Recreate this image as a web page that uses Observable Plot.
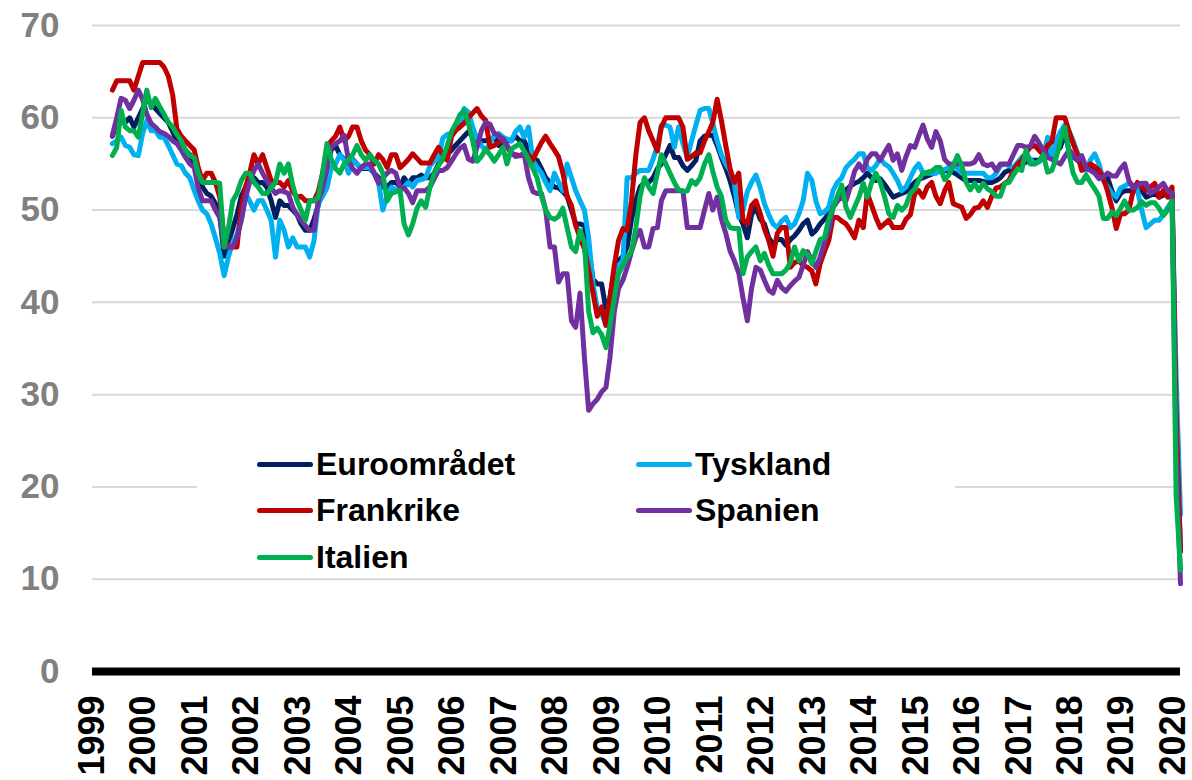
<!DOCTYPE html>
<html><head><meta charset="utf-8">
<script src="https://cdn.jsdelivr.net/npm/d3@7"></script>
<script src="https://cdn.jsdelivr.net/npm/@observablehq/plot@0.6"></script>
<style>
body{margin:0;background:#fff;}
#wrap{position:relative;width:1192px;height:780px;overflow:hidden;font-family:"Liberation Sans",Arial,sans-serif;}
#legendbox{position:absolute;left:197px;top:425px;width:758px;height:148px;background:#fff;}
.item{position:absolute;display:flex;align-items:center;height:40px;font-size:32px;font-weight:bold;color:#000;line-height:40px;white-space:nowrap;}
.swatch{width:56px;height:5px;border-radius:3px;margin-right:3px;}
</style></head>
<body><div id="wrap"></div>
<script>
// First observation: July 1999, monthly through April 2020
const startYear = 1999, startMonth = 7;
const seriesNames = ["Euroområdet", "Tyskland", "Frankrike", "Spanien", "Italien"];

const euroomradet = [
  58, 59.5, 60, 59.5, 60, 59,
  60, 61, 62, 61.5, 61, 60.5, 60, 59.5, 58.5, 57.5, 57, 56.5,
  56, 55, 53.5, 52.5, 51.8, 51.5, 50.7, 49.5, 45, 46.5, 48, 49.5,
  51.5, 52.5, 53.5, 53.5, 53, 53, 52.5, 51, 49.2, 51, 50.5, 50.5,
  50, 49.5, 48.5, 47.8, 47.8, 49, 50.5, 52.5, 55, 56.5, 57, 56,
  55.5, 55, 55.5, 55, 54.5, 54.5, 54.5, 54, 53.5, 52.5, 52.5, 53,
  53, 52.5, 53.5, 52.8, 53.5, 53.5, 53.8, 53.5, 53.5, 54, 55, 55.5,
  56, 56.5, 57, 57.5, 58, 58.5, 58, 57.5, 57.5, 57.5, 57.5, 58,
  57, 57.5, 57.5, 57.5, 58, 57.5, 57.5, 56.5, 55.4, 55.4, 54.5, 53.5,
  53, 52.5, 52.4, 52, 51.5, 50, 48.5, 48.5, 48.3, 45.8, 42.5, 42,
  42, 39.2, 40.5, 43.5, 44.5, 45, 46, 49, 51, 52.5, 53, 53,
  53.5, 54.5, 55, 56, 57, 55.7, 55.7, 54.8, 54.3, 54.8, 55.4, 57.5,
  58, 58.1, 58.1, 57, 55.7, 54.5, 53.2, 51.5, 49.5, 48.5, 47, 49.5,
  50.3, 49, 48.5, 47, 46.3, 46.8, 46.8, 46.2, 46.8, 47.2, 47.8, 48.5,
  48.9, 47.4, 47.8, 48.5, 49, 49.6, 50.3, 51, 51.8, 52.2, 52.6, 52.9,
  53.1, 53.5, 54, 53.5, 53.2, 53.4, 52.8, 52.1, 51.4, 51.6, 51.8, 52,
  52.5, 53, 53.3, 53.5, 53.7, 53.9, 54.1, 54.3, 54.3, 54.2, 54.1, 53.8,
  53.5, 53.2, 53.2, 53.2, 53.2, 53.1, 53, 53, 53.2, 53.5, 54.1, 54.3,
  54.6, 54.8, 55, 55.2, 55.4, 55.4, 55.4, 55.7, 56.2, 56.3, 56.4, 56.8,
  58.4, 56.4, 55.8, 55.4, 55, 54.7, 54.6, 54.4, 54.3, 53.7, 53.5, 52.1,
  51, 51.8, 52.1, 52.1, 52.1, 52.1, 52.1, 51.4, 51.6, 51.8, 51.4, 51.6,
  51.8, 51.8, 27, 13
];

const tyskland = [
  57.2, 57.5, 57.9, 57, 56.8, 56,
  55.9, 58.3, 59.7, 58.6, 58.6, 57.9, 57.9, 57, 56, 55, 54.8, 54,
  53.5, 52.1, 51, 50, 49.6, 48.5, 47, 45.3, 42.9, 44.9, 46.5, 47.4,
  48.9, 51.8, 51, 50, 51, 51, 50, 48.9, 44.9, 48.9, 47.8, 46,
  47, 46, 46, 46, 44.9, 46.7, 50.7, 51.5, 52.4, 54.6, 55, 56,
  55.4, 54, 55.4, 55, 54.6, 54.6, 54.6, 54, 53, 50, 51.5, 52.5,
  52.2, 52.1, 52.5, 53, 52.5, 53.2, 53.3, 53.5, 54.8, 55.3, 55.7, 57.8,
  58.2, 58.3, 58.7, 59, 61, 60.6, 59, 57.7, 57, 56.4, 57.3, 58,
  58.3, 57.9, 57.7, 57.5, 58.5, 59, 57.9, 59, 55.4, 54.6, 54, 53,
  52.1, 54, 53, 52.1, 55, 53.5, 52.1, 51, 50, 47, 42, 39.4,
  38.8, 37.5, 40.5, 42.5, 44, 44.5, 53.5, 53.5, 54, 54.3, 54.3, 54.3,
  55.5, 57, 59.2, 59.2, 59, 56.8, 59, 57.2, 55.7, 57.5, 59.2, 60.8,
  61, 61, 59.4, 57.5, 56, 55, 54.3, 52.9, 49.2, 50, 52, 53,
  53.8, 52.4, 50.7, 49.5, 48.5, 48.1, 48.8, 49.2, 48.1, 48.5, 49.6, 51,
  54, 53.2, 51, 49.6, 49.8, 50.3, 52.1, 53, 53.5, 54.6, 55.1, 55.5,
  56.1, 56.1, 54.6, 54.3, 54.8, 55.6, 55, 54.7, 54, 53.2, 52.1, 52.5,
  53.5, 54.5, 55, 54, 54, 54, 54, 54.2, 54.4, 54.6, 55, 54.5,
  54, 54, 54, 54, 54, 54, 53.5, 53.5, 54, 54.8, 55, 54.8,
  54.6, 55.2, 55.7, 56.1, 55.5, 55, 55.2, 55.6, 57.9, 55.7, 57.5, 58.5,
  59.2, 58.5, 57.5, 56.2, 55, 54.3, 55.4, 56.1, 55, 53.2, 52.5, 51.8,
  51.4, 52.4, 52.6, 52.9, 52.7, 52.1, 50, 48.1, 48.5, 48.9, 48.9, 49.5,
  50.3, 51, 32, 17
];

const frankrike = [
  63, 64, 64, 64, 64, 63,
  64.5, 66, 66, 66, 66, 66, 65.5, 64.5, 62.5, 58.8, 58, 57.5,
  57, 56.5, 54.6, 53.2, 54, 54, 53, 51.4, 47, 46, 46, 46,
  50.3, 52.5, 54, 56, 55, 56, 54.6, 53.2, 53, 53, 52.5, 53.2,
  52, 51.4, 51.5, 51, 51, 51, 52, 54, 56.8, 57.5, 58, 59,
  57.5, 58, 59, 59, 57.5, 56.5, 56, 55, 56, 55.5, 54.6, 56,
  56, 54.6, 55, 55.5, 56.1, 55.6, 55.1, 55.1, 55.1, 56, 56.8, 56,
  55.4, 58, 58.6, 59, 59.4, 60, 60.5, 61, 60.2, 59.7, 56.8, 57,
  57.3, 57.7, 57, 56.1, 56, 55.9, 56.1, 56, 55.4, 56.4, 57.3, 58,
  57.2, 56.5, 55.8, 54, 51.5, 50.5, 48.3, 47, 45.8, 43.5, 41, 38.5,
  39.5, 37.5, 40.5, 44, 46.7, 48, 47.8, 51, 56, 59.5, 60, 58.6,
  57.5, 56.4, 59, 60, 60, 60, 60, 59, 55.5, 55.8, 56.2, 56.2,
  57.5, 58.5, 59.5, 62, 59.7, 57, 54.5, 53, 54, 48.9, 48.5, 50.5,
  51, 49.6, 48, 46.7, 45, 47.5, 48.1, 48.1, 43.8, 44.3, 44.5, 44,
  43.8, 43.4, 42, 44.2, 45.5, 46.7, 49.2, 49.2, 48.8, 48.5, 47.8, 47,
  48.9, 48.1, 51.8, 50.5, 49.2, 48.1, 48.5, 48.9, 48.1, 48.1, 48.1, 49,
  49.5, 51.8, 52.1, 51.4, 52.5, 53, 51.5, 50.7, 52.1, 53, 50.7, 50.5,
  50.3, 49.1, 49.5, 50.2, 50.3, 51, 50.3, 51.5, 52.4, 52.5, 52.9, 53.2,
  54.3, 55, 55.4, 56.2, 56.8, 57, 56.5, 56, 57, 57.4, 60, 60,
  60, 58.5, 57.2, 56, 54.3, 54.6, 55, 54.7, 54.3, 53.5, 52, 50.3,
  48, 49.6, 49.6, 50, 52.1, 53, 52.5, 52.1, 52.5, 52.9, 51.4, 52.1,
  51.4, 52.5, 28, 13
];

const spanien = [
  58.1, 60, 62.1, 61.9, 61, 61.9,
  63, 62, 60.4, 59.4, 59, 58.5, 58.3, 58, 57.5, 57.2, 56.5, 55.7,
  55, 54.6, 52.4, 51, 51, 51, 50, 49.2, 46, 46, 46, 47,
  48.9, 51.4, 53, 54.3, 55, 54, 53.2, 52.4, 51.8, 52.1, 52, 51.8,
  50.3, 49.5, 48.9, 48.3, 47.8, 47.8, 51, 52.4, 54.5, 56.8, 57.2, 57.5,
  58.1, 55.4, 54.5, 54, 54.6, 55, 55, 54, 52.9, 53.5, 54, 54.3,
  54, 52.4, 52.4, 51.8, 50.8, 52.1, 52.1, 52.1, 52.5, 53.4, 54.3, 54.3,
  54.6, 55.3, 56, 56.7, 57, 55.5, 55.3, 56.8, 58.6, 59.5, 59.3, 58.3,
  58.1, 57.6, 57, 56.3, 55.8, 55.9, 56.1, 53.5, 52, 51.8, 51.8, 50,
  46, 46, 42.2, 43.1, 43.1, 38, 37.3, 41, 34, 28.3, 29, 29.5,
  30.3, 30.8, 34, 39, 41.5, 42.4, 43.8, 45.5, 47, 47.8, 46, 46,
  48, 48.1, 51, 52.1, 52.1, 52.1, 52.1, 52.1, 48.1, 48.1, 48.1, 48.1,
  50, 51.8, 50, 51.4, 49, 47.5, 45.6, 44.5, 43.2, 40.5, 38, 41.5,
  43.8, 43.5, 42.4, 41.3, 41, 42.4, 41.6, 41.2, 41.8, 42.3, 42.7, 44,
  45.5, 44.5, 43.8, 44.9, 46.5, 47.8, 50.3, 51, 51.4, 51, 52.5, 54.2,
  55, 54.3, 55.5, 56.1, 56.1, 55.4, 56.2, 57, 55.4, 56.1, 54.3, 55.8,
  57, 56.8, 58, 59.2, 57.7, 56.8, 58.5, 57.5, 55.5, 55, 55, 55,
  55, 55, 55, 55.2, 56, 55, 54.8, 55, 54.3, 55, 55, 55,
  56, 57, 57, 56.8, 56.9, 58, 57.3, 56.5, 55.7, 55.5, 55.2, 55,
  55.8, 56.5, 56, 55.4, 55.9, 54.6, 54.3, 54, 53.4, 53.6, 54, 53.7,
  53.7, 54.5, 55, 53.2, 52.4, 52.7, 52.9, 52.9, 51.8, 52.1, 52.5, 52.9,
  52.1, 51.8, 24, 9.5
];

const italien = [
  55.9, 56.8, 60.8, 59, 58.6, 58.6,
  57.9, 60.5, 63, 61.1, 62.1, 61.2, 60.4, 59.5, 59, 58.2, 57.5, 56.5,
  55.9, 55.7, 54, 53, 53, 53, 53, 52.9, 46, 48, 51, 51.8,
  53.2, 54, 54, 53, 52.5, 51.8, 51.8, 52.4, 53, 55, 54, 55,
  52.7, 51, 50, 48.9, 51, 51, 51.4, 54, 57.2, 55.5, 54.5, 54,
  55, 55.4, 56, 57, 56, 55.4, 56, 55.4, 55, 54, 51, 51.8,
  52, 52.1, 48.5, 47.3, 48.5, 50.2, 51, 50.3, 52.5, 54, 54.8, 55.6,
  57, 58.5, 59.3, 60.3, 60.8, 59.4, 57.5, 55.3, 55.8, 56.6, 56, 55.3,
  56, 56.8, 55, 56.6, 56.9, 57.2, 56.4, 55.5, 54.5, 53.5, 51.5, 50,
  49.2, 49, 49.3, 50.2, 48.1, 46, 45.5, 47.8, 46.5, 39, 36.7, 37.2,
  36.5, 35.1, 37.5, 40.5, 43.1, 44, 44.9, 45.5, 48.1, 51.5, 53.5, 52.5,
  51.8, 54, 56, 55, 54, 53, 52.2, 52, 52.1, 53.2, 52.8, 53.5,
  55, 56, 54.2, 52.5, 51.5, 48.9, 48.1, 48, 48, 43.1, 44.9, 45.5,
  46, 44.5, 45.3, 44, 43.1, 43.1, 43.1, 43.5, 44.3, 46, 44.5, 45.6,
  45.2, 44.2, 45.5, 46.8, 47, 49, 50.2, 51.5, 52.7, 50.3, 49.2, 50.3,
  51.4, 52.9, 51.4, 53, 54, 53, 51.5, 49.6, 49.2, 50.5, 50, 50.5,
  51.8, 52.3, 53.2, 54, 54.1, 54.2, 54.6, 54.6, 53.3, 53.8, 54.8, 55.9,
  54.8, 53, 52.2, 52.9, 52.1, 52.9, 52.3, 52, 51.5, 51.5, 52.9, 53,
  53.8, 54.5, 54.3, 56.5, 55, 55, 55.3, 56, 54.1, 54.3, 55.7, 57.5,
  59, 56, 54, 53, 53, 53.8, 53, 52.3, 51.5, 49.1, 49.1, 49.8,
  49.4, 50.2, 51, 50, 50, 50.3, 50.9, 50.5, 50.8, 50.8, 50.2, 49.4,
  50, 51, 19, 11
];

const yTicks = [0, 10, 20, 30, 40, 50, 60, 70];
const yearLabels = [1999, 2000, 2001, 2002, 2003, 2004, 2005, 2006, 2007, 2008, 2009,
  2010, 2011, 2012, 2013, 2014, 2015, 2016, 2017, 2018, 2019, 2020];

const seriesValues = [euroomradet, tyskland, frankrike, spanien, italien];
const colors = {
  "Euroområdet": "#002060",
  "Tyskland": "#00B0F0",
  "Frankrike": "#C00000",
  "Spanien": "#7030A0",
  "Italien": "#00B050"
};

seriesValues.forEach((a, s) => { if (a.length !== 250) console.error(seriesNames[s] + " length " + a.length); });

const rows = seriesNames.flatMap((name, s) =>
  seriesValues[s].map((v, i) => ({
    series: name,
    date: new Date(Date.UTC(startYear, startMonth - 1 + i, 1)),
    value: v
  }))
);

const tickDate = y => new Date(Date.UTC(y, 1, 10));

const chart = Plot.plot({
  width: 1192,
  height: 780,
  marginLeft: 92,
  marginRight: 12,
  marginTop: 25,
  marginBottom: 109,
  x: {type: "utc", domain: [tickDate(1999), new Date(Date.UTC(2020, 3, 1))], axis: null},
  y: {domain: [0, 70], axis: null},
  style: {fontFamily: "Liberation Sans, Arial, sans-serif", background: "#fff", overflow: "visible"},
  marks: [
    Plot.ruleY(yTicks.filter(d => d > 0), {stroke: "#d9d9d9", strokeWidth: 2}),
    ...seriesNames.map(name =>
      Plot.line(rows.filter(r => r.series === name), {
        x: "date", y: "value", stroke: colors[name], strokeWidth: 5,
        strokeLinejoin: "round", strokeLinecap: "round"
      })
    ),
    Plot.ruleY([0], {stroke: "#000", strokeWidth: 8}),
    Plot.text(yTicks, {
      y: d => d, text: d => String(d), frameAnchor: "left", dx: -33,
      textAnchor: "end", fontSize: 35, fontWeight: "bold", fill: "#808080"
    }),
    Plot.text(yearLabels, {
      x: d => tickDate(d), text: d => String(d), frameAnchor: "bottom", dy: 24,
      rotate: -90, textAnchor: "end", lineAnchor: "middle",
      fontSize: 36, fontWeight: "bold", fill: "#000"
    })
  ]
});

const wrap = document.getElementById("wrap");
wrap.appendChild(chart);

// Legend overlay (inside plot area, white box)
const box = document.createElement("div");
box.id = "legendbox";
wrap.appendChild(box);
const legendLayout = [
  {left: 257, top: 444}, {left: 636, top: 444},
  {left: 257, top: 490}, {left: 636, top: 490},
  {left: 257, top: 537}
];
seriesNames.forEach((name, i) => {
  const it = document.createElement("div");
  it.className = "item";
  it.style.left = legendLayout[i].left + "px";
  it.style.top = legendLayout[i].top + "px";
  const sw = document.createElement("span");
  sw.className = "swatch";
  sw.style.background = colors[name];
  const tx = document.createElement("span");
  tx.textContent = name;
  it.appendChild(sw);
  it.appendChild(tx);
  wrap.appendChild(it);
});
</script>
</body></html>
